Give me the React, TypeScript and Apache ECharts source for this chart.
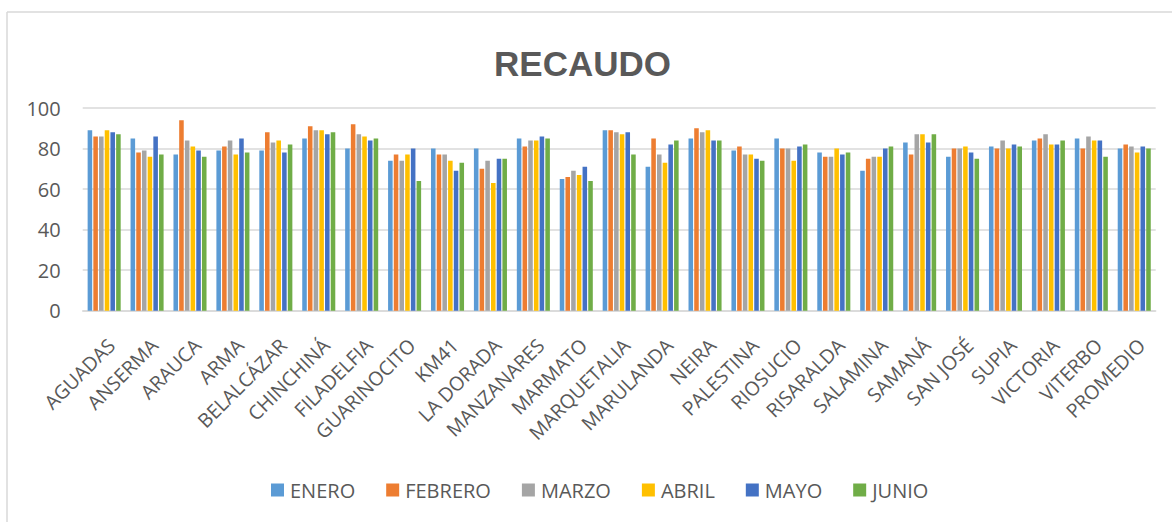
import React, { useEffect, useRef } from "react";
import * as echarts from "echarts";

const categories = [
  "AGUADAS", "ANSERMA", "ARAUCA", "ARMA", "BELALCÁZAR", "CHINCHINÁ", "FILADELFIA",
  "GUARINOCITO", "KM41", "LA DORADA", "MANZANARES", "MARMATO", "MARQUETALIA",
  "MARULANDA", "NEIRA", "PALESTINA", "RIOSUCIO", "RISARALDA", "SALAMINA", "SAMANÁ",
  "SAN JOSÉ", "SUPIA", "VICTORIA", "VITERBO", "PROMEDIO",
];

const enero = [89, 85, 77, 79, 79, 85, 80, 74, 80, 80, 85, 65, 89, 71, 85, 79, 85, 78, 69, 83, 76, 81, 84, 85, 80];
const febrero = [86, 78, 94, 81, 88, 91, 92, 77, 77, 70, 81, 66, 89, 85, 90, 81, 80, 76, 75, 77, 80, 80, 85, 80, 82];
const marzo = [86, 79, 84, 84, 83, 89, 87, 74, 77, 74, 84, 69, 88, 77, 88, 77, 80, 76, 76, 87, 80, 84, 87, 86, 81];
const abril = [89, 76, 81, 77, 84, 89, 86, 77, 74, 63, 84, 67, 87, 73, 89, 77, 74, 80, 76, 87, 81, 80, 82, 84, 78];
const mayo = [88, 86, 79, 85, 78, 87, 84, 80, 69, 75, 86, 71, 88, 82, 84, 75, 81, 77, 80, 83, 78, 82, 82, 84, 81];
const junio = [87, 77, 76, 78, 82, 88, 85, 64, 73, 75, 85, 64, 77, 84, 84, 74, 82, 78, 81, 87, 75, 81, 84, 76, 80];

const seriesNames = ["ENERO", "FEBRERO", "MARZO", "ABRIL", "MAYO", "JUNIO"];
const seriesData = [enero, febrero, marzo, abril, mayo, junio];
const colors = ["#5B9BD5", "#ED7D31", "#A5A5A5", "#FFC000", "#4472C4", "#70AD47"];
const yTicks = [0, 20, 40, 60, 80, 100];

const TEXT = "#595959";
const FONT = "'Open Sans', sans-serif";

export default function App() {
  const ref = useRef<HTMLDivElement>(null);
  useEffect(() => {
    if (!ref.current) return;
    const chart = echarts.init(ref.current, undefined, { renderer: "svg" });
    chart.setOption({
      animation: false,
      backgroundColor: "#ffffff",
      color: colors,
      graphic: [
        { type: "line", shape: { x1: 7, y1: 12, x2: 1172, y2: 12 }, style: { stroke: "#d9d9d9", lineWidth: 1.5 } },
        { type: "line", shape: { x1: 7, y1: 12, x2: 7, y2: 522 }, style: { stroke: "#d9d9d9", lineWidth: 1.5 } },
        {
          type: "text",
          x: 582.5,
          y: 63,
          style: {
            text: "RECAUDO",
            fill: TEXT,
            font: "bold 35px 'Liberation Sans', Arial, sans-serif",
            textAlign: "center",
            textVerticalAlign: "middle",
          },
        },
      ],
      legend: {
        left: 266,
        top: 475,
        itemWidth: 13,
        itemHeight: 13,
        itemGap: 31,
        icon: "rect",
        textStyle: { color: TEXT, fontSize: 20, fontFamily: FONT, padding: [0, 0, 0, 1] },
        data: seriesNames,
      },
      grid: { left: 82.7, right: 16.3, top: 108, bottom: 211.3, containLabel: false },
      xAxis: {
        type: "category",
        data: categories,
        axisLine: { show: true, lineStyle: { color: "#d9d9d9", width: 1.5 } },
        axisTick: { show: false },
        axisLabel: {
          rotate: 45,
          interval: 0,
          margin: 24,
          color: TEXT,
          fontSize: 19.5,
          fontFamily: FONT,
          verticalAlign: "top",
        },
      },
      yAxis: {
        type: "value",
        min: yTicks[0],
        max: yTicks[yTicks.length - 1],
        interval: 20,
        axisLine: { show: false },
        axisTick: { show: false },
        splitLine: { lineStyle: { color: "#d9d9d9", width: 1.5 } },
        axisLabel: { color: TEXT, fontSize: 20, fontFamily: FONT, margin: 22 },
      },
      series: seriesNames.map((name, i) => ({
        name,
        type: "bar",
        data: seriesData[i],
        barGap: "25%",
        barCategoryGap: "23%",
        itemStyle: { color: colors[i] },
      })),
    });
    return () => chart.dispose();
  }, []);
  return (
    <div
      ref={ref}
      style={{ position: "absolute", left: 0, top: 0, width: 1172, height: 522, background: "#fff" }}
    />
  );
}
